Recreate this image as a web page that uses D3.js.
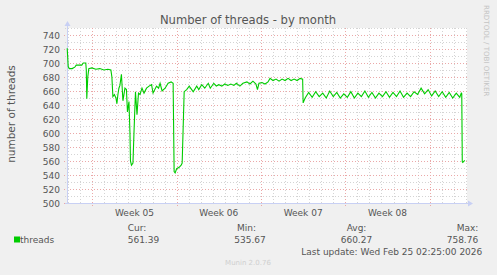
<!DOCTYPE html>
<html>
<head>
<meta charset="utf-8">
<script src="https://cdn.jsdelivr.net/npm/d3@7"></script>
<style>
body { margin: 0; background: #f0f0f0; }
svg { display: block; }
text { font-family: "DejaVu Sans", sans-serif; }
</style>
</head>
<body>
<div id="chart"></div>
<script>
// hours after Sun Jan 25 2026 00:00, and the thread count
const hours = [-50, -48, -46, -40, -35, -32, -21, -18, -13, -12, -11, -9, -7, -1, 7, 15, 23, 31, 37, 39,
  41, 44, 47, 49, 51, 53, 55, 58, 61, 65, 68, 70, 73, 75, 76, 78, 81, 83, 86, 89,
  92, 95, 99, 103, 108, 113, 118, 121, 128, 132, 135, 139, 145, 151, 157, 161, 163, 165, 168, 173,
  177, 179, 183, 188, 193, 198, 201, 208, 212, 218, 224, 231, 235, 242, 247, 252, 258, 264, 270, 276,
  282, 287, 294, 300, 308, 314, 320, 326, 329, 332, 338, 344, 350, 354, 360, 366, 372, 378, 384, 390,
  396, 402, 408, 414, 419, 420, 424, 431, 438, 445, 452, 459, 466, 473, 480, 487, 494, 501, 508, 515,
  522, 529, 536, 543, 550, 557, 564, 571, 578, 585, 592, 599, 606, 613, 620, 627, 634, 641, 648, 655,
  662, 669, 676, 683, 690, 697, 704, 711, 718, 725, 732, 735, 736, 737, 738, 742];
const threads = [721, 695, 692, 692, 694, 697, 697, 700, 700, 690, 649, 680, 692, 693, 691, 692, 690, 691, 690, 680,
  652, 655, 650, 642, 655, 664, 668, 684, 646, 664, 662, 630, 645, 600, 560, 554, 557, 600, 659, 626,
  657, 655, 664, 657, 664, 667, 669, 657, 667, 664, 671, 660, 664, 671, 673, 671, 545, 543, 549, 551,
  554, 557, 659, 662, 667, 662, 659, 667, 662, 669, 664, 671, 664, 671, 667, 669, 667, 670, 668, 670,
  668, 671, 667, 671, 673, 670, 674, 670, 662, 671, 672, 670, 673, 678, 675, 677, 674, 677, 675, 678,
  675, 677, 675, 678, 677, 643, 650, 658, 651, 659, 652, 657, 650, 660, 652, 658, 650, 656, 651, 659,
  650, 657, 652, 660, 651, 658, 650, 657, 652, 659, 651, 658, 652, 660, 651, 657, 652, 659, 655, 664,
  656, 662, 653, 660, 652, 659, 651, 658, 650, 657, 651, 657, 656, 559, 558, 561];

const yTicks = [500, 520, 540, 560, 580, 600, 620, 640, 660, 680, 700, 720, 740];
const seriesName = "threads";
const statLabels = ["Cur:", "Min:", "Avg:", "Max:"];
const statValues = ["561.39", "535.67", "660.27", "758.76"];
const lastUpdate = "Last update: Wed Feb 25 02:25:00 2026";

const width = 497, height = 275;
const plotLeft = 67, plotRight = 467, plotTop = 28, plotBottom = 203;
const textColor = "#555";
const axisColor = "#c8d0f4";

const base = new Date(2026, 0, 25);
const times = hours.map(h => new Date(+base + h * 3600e3));

const x = d3.scaleTime()
  .domain([new Date(2026, 0, 22, 21, 35), new Date(2026, 1, 25, 2, 25)])
  .range([plotLeft, plotRight]);
const y = d3.scaleLinear().domain([500, 750]).range([plotBottom, plotTop]);

const svg = d3.select("#chart").append("svg")
  .attr("width", width).attr("height", height);

svg.append("rect").attr("width", width).attr("height", height).attr("fill", "#f0f0f0");
svg.append("rect").attr("x", plotLeft).attr("y", plotTop)
  .attr("width", plotRight - plotLeft).attr("height", plotBottom - plotTop).attr("fill", "#fff");

// grid
const px = v => Math.round(v) + 0.5;
const days = x.ticks(d3.timeDay.every(1));
const weeks = x.ticks(d3.timeWeek.every(1));
const weekSet = new Set(weeks.map(d => +d));
const grid = svg.append("g");

grid.selectAll(".vminor").data(days.filter(d => !weekSet.has(+d))).enter().append("line")
  .attr("x1", d => px(x(d))).attr("x2", d => px(x(d)))
  .attr("y1", plotTop).attr("y2", plotBottom + 2)
  .attr("stroke", "#d4d4d4").attr("stroke-dasharray", "1,2");
grid.selectAll(".hminor").data(y.ticks(25).filter(v => yTicks.indexOf(v) < 0)).enter().append("line")
  .attr("x1", plotLeft - 2).attr("x2", plotRight)
  .attr("y1", d => px(y(d))).attr("y2", d => px(y(d)))
  .attr("stroke", "#d4d4d4").attr("stroke-dasharray", "1,2");
grid.selectAll(".vmajor").data(weeks).enter().append("line")
  .attr("x1", d => px(x(d))).attr("x2", d => px(x(d)))
  .attr("y1", plotTop).attr("y2", plotBottom + 3)
  .attr("stroke", "#eba8a8").attr("stroke-dasharray", "1,2");
grid.selectAll(".hmajor").data(yTicks).enter().append("line")
  .attr("x1", plotLeft - 3).attr("x2", plotRight)
  .attr("y1", d => px(y(d))).attr("y2", d => px(y(d)))
  .attr("stroke", "#eba8a8").attr("stroke-dasharray", "1,2");

// axes with arrows
svg.append("line").attr("x1", plotLeft + 0.5).attr("x2", plotLeft + 0.5)
  .attr("y1", plotTop - 4).attr("y2", plotBottom + 1).attr("stroke", axisColor);
svg.append("line").attr("x1", plotLeft - 2).attr("x2", plotRight + 2)
  .attr("y1", plotBottom + 0.5).attr("y2", plotBottom + 0.5).attr("stroke", axisColor);
svg.append("path")
  .attr("d", `M${plotLeft - 2.5},${plotTop - 2} L${plotLeft + 3.5},${plotTop - 2} L${plotLeft + 0.5},${plotTop - 7} Z`)
  .attr("fill", axisColor);
svg.append("path")
  .attr("d", `M${plotRight + 1},${plotBottom - 2.5} L${plotRight + 1},${plotBottom + 3.5} L${plotRight + 6},${plotBottom + 0.5} Z`)
  .attr("fill", axisColor);

// y tick labels
svg.append("g").selectAll("text").data(yTicks).enter().append("text")
  .attr("x", 60).attr("y", d => y(d) + 3.5)
  .attr("text-anchor", "end").attr("font-size", 9).attr("fill", textColor)
  .text(d => d);

// week labels centred in each week
const weekFmt = d3.timeFormat("%V");
svg.append("g").selectAll("text")
  .data(weeks.map(w => d3.timeHour.offset(w, 84)).filter(d => d > x.domain()[0] && d < x.domain()[1]))
  .enter().append("text")
  .attr("x", d => x(d)).attr("y", 216)
  .attr("text-anchor", "middle").attr("font-size", 9).attr("fill", textColor)
  .text(d => "Week " + weekFmt(d));

// series line
const line = d3.line().x((d, i) => x(times[i])).y(d => y(d));
svg.append("path").datum(threads)
  .attr("d", line).attr("fill", "none")
  .attr("stroke", "#00cc00").attr("stroke-width", 1.1);

// titles
svg.append("text").attr("x", 248).attr("y", 24).attr("text-anchor", "middle")
  .attr("font-size", 11.6).attr("fill", textColor).text("Number of threads - by month");
svg.append("text").attr("transform", "translate(14.5,114) rotate(-90)")
  .attr("text-anchor", "middle").attr("font-size", 10.5).attr("fill", textColor)
  .text("number of threads");
svg.append("text").attr("transform", "translate(484,5) rotate(90)")
  .attr("font-size", 7.1).attr("fill", "#c4c4c4").text("RRDTOOL / TOBI OETIKER");

// legend
svg.append("rect").attr("x", 14).attr("y", 236.5).attr("width", 6).attr("height", 6).attr("fill", "#00cc00");
svg.append("text").attr("x", 20).attr("y", 242.5).attr("font-size", 9).attr("fill", textColor).text(seriesName);
const labelX = [127.7, 237, 346.7, 456.7];
const valueX = [127.7, 234.3, 340.7, 446.7];
statLabels.forEach((s, i) => {
  svg.append("text").attr("x", labelX[i]).attr("y", 231).attr("font-size", 9).attr("fill", textColor).text(s);
  svg.append("text").attr("x", valueX[i]).attr("y", 242.5).attr("font-size", 9).attr("fill", textColor).text(statValues[i]);
});
svg.append("text").attr("x", 482.3).attr("y", 255).attr("text-anchor", "end")
  .attr("font-size", 9).attr("fill", textColor).text(lastUpdate);
svg.append("text").attr("x", 248).attr("y", 265).attr("text-anchor", "middle")
  .attr("font-size", 7).attr("fill", "#cfcfcf").text("Munin 2.0.76");
</script>
</body>
</html>
